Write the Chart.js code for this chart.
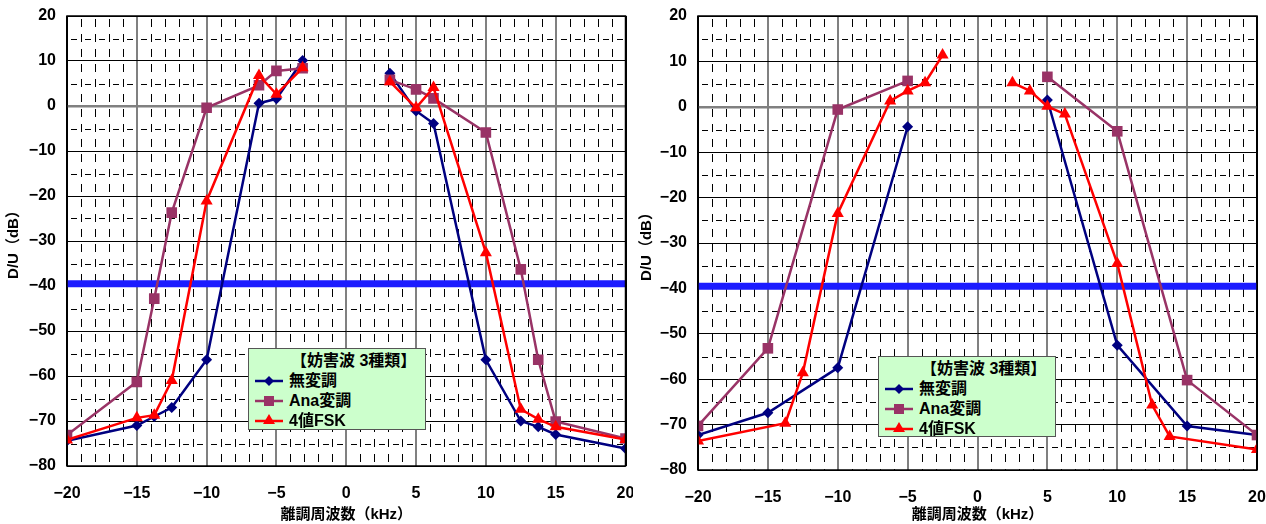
<!DOCTYPE html>
<html>
<head>
<meta charset="utf-8">
<script src="https://cdn.jsdelivr.net/npm/chart.js@4.4.1/dist/chart.umd.min.js"></script>
<style>
  html, body { margin: 0; padding: 0; background: #fff; }
  #wrap { position: relative; width: 1266px; height: 524px; }
  .pane { position: absolute; top: 0; width: 633px; height: 524px; }
  .legend {
    position: absolute;
    background: #ccffcc;
    border: 1px solid #555;
    font-family: "Liberation Sans", "Noto Sans CJK JP", sans-serif;
    font-weight: bold;
    font-size: 16px;
    line-height: 20px;
    color: #000;
    box-sizing: border-box;
    padding: 2px 0 0 6px;
  }
  .legend .ttl { padding-left: 36px; }
  .legend .row { display: flex; align-items: center; height: 20px; }
  .legend svg { margin-right: 6px; }
</style>
</head>
<body>
<div id="wrap">
  <div class="pane" style="left:0"><canvas id="leftChart" width="633" height="524"></canvas></div>
  <div class="pane" style="left:633px"><canvas id="rightChart" width="633" height="524"></canvas></div>
  <div class="legend" id="legL" style="left:248px; top:348px; width:178px; height:82px;"></div>
  <div class="legend" id="legR" style="left:878px; top:356px; width:178px; height:81px;"></div>
</div>
<script>
// --- data ---
const seriesNames = ["無変調", "Ana変調", "4値FSK"];
const legendTitle = "【妨害波 3種類】";

// left chart: all three series share the same frequency points (0 = gap)
const leftFreq   = [-20, -15, -13.75, -12.5, -10, -6.25, -5, -3.125, 0, 3.125, 5, 6.25, 10, 12.5, 13.75, 15, 20];
const leftMuhen  = [-74.4, -71, -69, -67, -56.4, 0.6, 1.6, 10.1, null, 7.3, -1.1, -3.9, -56.4, -70, -71.3, -73, -76.1];
const leftAna    = [-73.1, -61.3, -42.8, -23.7, -0.4, 4.6, 7.8, 8.4, null, 5.8, 3.7, 1.7, -5.9, -36.3, -56.4, -70.1, -73.9];
const leftFsk    = [-74.2, -69.3, -68.7, -61, -21.1, 6.8, 2.6, 8.5, null, 5.4, -0.4, 4.1, -32.6, -67.4, -69.6, -71.3, -74.1];

// right chart
const rightFreq  = [-20, -15, -10, -5, 0, 5, 10, 15, 20];
const rightMuhen = [-72.3, -67.4, -57.5, -4.4, null, 1.5, -52.5, -70.3, -72.3];
const rightAna   = [-70.3, -53.2, -0.6, 5.7, null, 6.6, -5.4, -60.2, -72.3];
const rightFskFreq = [-20, -13.75, -12.5, -10, -6.25, -5, -3.75, -2.5, 0, 2.5, 3.75, 5, 6.25, 10, 12.5, 13.75, 20];
const rightFsk   = [-73.6, -69.7, -58.6, -23.5, 1.3, 3.5, 5.3, 11.4, null, 5.3, 3.5, 0.1, -1.6, -34.5, -65.7, -72.6, -75.5];

// D/U threshold line
const thresholdDb = -39.5;

// axes
const xMin = -20, xMax = 20, xStep = 5;
const yMin = -80, yMax = 20, yStep = 10;

const colors = ["#000080", "#993366", "#ff0000"];
const FONT = "'Liberation Sans', 'Noto Sans CJK JP', sans-serif";

function pts(xs, ys) {
  return xs.map((x, i) => ({ x: x, y: ys[i] }));
}

// dashed minor grid (every 1 kHz and every 5 dB) + black frame
const minorGrid = {
  id: "minorGrid",
  beforeDatasetsDraw(chart) {
    const { ctx, chartArea: a, scales: { x, y } } = chart;
    ctx.save();
    ctx.strokeStyle = "#000";
    ctx.lineWidth = 1;
    ctx.setLineDash([8, 7]);
    ctx.lineDashOffset = -3;
    for (let v = xMin + 1; v < xMax; v++) {
      if (v % 5 === 0) continue;
      const px = Math.round(x.getPixelForValue(v)) + 0.5;
      ctx.beginPath();
      ctx.moveTo(px, a.top);
      ctx.lineTo(px, a.bottom);
      ctx.stroke();
    }
    ctx.setLineDash([6, 8]);
    ctx.lineDashOffset = -4;
    for (let v = yMin + 5; v < yMax; v += 10) {
      const py = Math.round(y.getPixelForValue(v)) + 0.5;
      ctx.beginPath();
      ctx.moveTo(a.left, py);
      ctx.lineTo(a.right, py);
      ctx.stroke();
    }
    ctx.restore();
  },
  afterDraw(chart) {
    const { ctx, chartArea: a } = chart;
    ctx.save();
    ctx.strokeStyle = "#000";
    ctx.lineWidth = 1.5;
    ctx.strokeRect(a.left, a.top, a.right - a.left, a.bottom - a.top);
    ctx.restore();
  }
};

function makeChart(id, series, box) {
  const styles = [
    { pointStyle: "rectRot", radius: 5.5, width: 2.5 },
    { pointStyle: "rect", radius: 7.5, width: 2.5 },
    { pointStyle: "triangle", radius: 7, width: 2.5 }
  ];
  const datasets = series.map((s, i) => ({
    label: seriesNames[i],
    data: s,
    borderColor: colors[i],
    backgroundColor: colors[i],
    borderWidth: styles[i].width,
    pointStyle: styles[i].pointStyle,
    pointRadius: styles[i].radius,
    pointBorderWidth: 0,
    tension: 0,
    order: 3 - i
  }));
  datasets.push({
    label: "threshold",
    data: [{ x: xMin, y: thresholdDb }, { x: xMax, y: thresholdDb }],
    borderColor: "#1c1cff",
    borderWidth: 7,
    pointRadius: 0,
    order: 10
  });

  const minus = v => String(v).replace("-", "−");

  return new Chart(document.getElementById(id), {
    type: "line",
    data: { datasets },
    options: {
      responsive: false,
      animation: false,
      layout: { padding: { top: box.top, right: box.right, left: 0, bottom: 0 } },
      plugins: { legend: { display: false }, tooltip: { enabled: false } },
      scales: {
        x: {
          type: "linear",
          min: xMin, max: xMax,
          afterFit: s => { s.height = box.xh; s.paddingLeft = 0; s.paddingRight = 0; },
          ticks: {
            stepSize: xStep, padding: 18, color: "#000",
            font: { family: FONT, size: 16, weight: "bold" },
            callback: minus
          },
          grid: {
            drawTicks: false,
            color: c => (c.tick && Math.abs(c.tick.value) === 20 ? "#000" : "#808080"),
            lineWidth: 2
          },
          border: { display: false },
          title: {
            display: true, text: "離調周波数（kHz）", color: "#000",
            font: { family: FONT, size: 15, weight: "bold" },
            padding: { top: 0, bottom: 0 }
          }
        },
        y: {
          min: yMin, max: yMax,
          afterFit: s => { s.width = box.yw; s.paddingTop = 0; s.paddingBottom = 0; },
          ticks: {
            stepSize: yStep, padding: 11, color: "#000",
            font: { family: FONT, size: 16, weight: "bold" },
            callback: minus
          },
          grid: {
            drawTicks: false,
            color: c => (c.tick && c.tick.value === 0 ? "#808080" : "#000"),
            lineWidth: c => (c.tick && c.tick.value === 0 ? 2.5 : 1)
          },
          border: { display: false },
          title: {
            display: true, text: "D/U（dB）", color: "#000",
            font: { family: FONT, size: 15, weight: "bold" },
            padding: { top: 5, bottom: 0 }
          }
        }
      }
    },
    plugins: [minorGrid]
  });
}

makeChart("leftChart", [
  pts(leftFreq, leftMuhen),
  pts(leftFreq, leftAna),
  pts(leftFreq, leftFsk)
], { top: 16, right: 7, yw: 67, xh: 58 });

makeChart("rightChart", [
  pts(rightFreq, rightMuhen),
  pts(rightFreq, rightAna),
  pts(rightFskFreq, rightFsk)
], { top: 16, right: 9, yw: 65, xh: 54 });

// legend boxes
function markerSvg(i) {
  const c = colors[i];
  let m;
  if (i === 0) m = `<polygon points="14,5 19,10 14,15 9,10" fill="${c}"/>`;
  else if (i === 1) m = `<rect x="9" y="5" width="10" height="10" fill="${c}"/>`;
  else m = `<polygon points="14,3 20,13 8,13" fill="${c}"/>`;
  return `<svg width="28" height="20"><line x1="0" y1="10" x2="28" y2="10" stroke="${c}" stroke-width="2.5"/>${m}</svg>`;
}
["legL", "legR"].forEach(id => {
  const el = document.getElementById(id);
  let html = `<div class="ttl">${legendTitle}</div>`;
  seriesNames.forEach((n, i) => {
    html += `<div class="row">${markerSvg(i)}<span>${n}</span></div>`;
  });
  el.innerHTML = html;
});
</script>
</body>
</html>
